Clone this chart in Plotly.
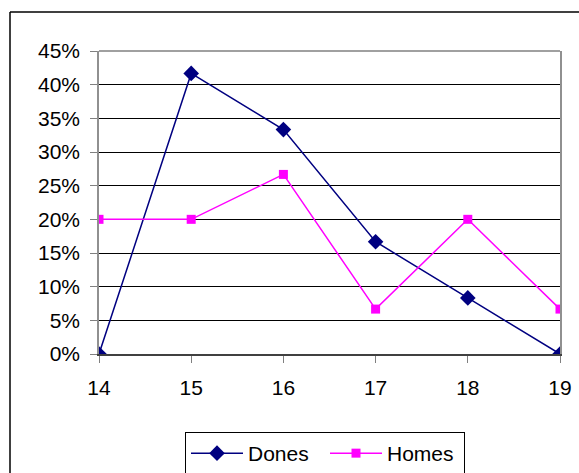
import plotly.graph_objects as go

ages = [14, 15, 16, 17, 18, 19]
dones = [0.0, 0.4167, 0.3333, 0.1667, 0.0833, 0.0]
homes = [0.20, 0.20, 0.2667, 0.0667, 0.20, 0.0667]

W, H = 579, 473
L, T = 99, 51
R = W - 560
B = H - 354
pw, ph = W - L - R, H - T - B

fig = go.Figure()
fig.add_trace(go.Scatter(x=ages, y=dones, name="Dones", mode="lines+markers",
                         line=dict(color="#000080", width=1.5),
                         marker=dict(symbol="diamond", size=12, color="#000080")))
fig.add_trace(go.Scatter(x=ages, y=homes, name="Homes", mode="lines+markers",
                         line=dict(color="#FF00FF", width=1.5),
                         marker=dict(symbol="square", size=9, color="#FF00FF")))

# outer chart border (top and left edges; others are off-canvas)
x_left = (10 - L) / pw
y_top = 1 + (T - 12) / ph
fig.add_shape(type="line", xref="paper", yref="paper",
              x0=x_left, x1=(W - L) / pw, y0=y_top, y1=y_top,
              line=dict(color="black", width=1.5), layer="below")
fig.add_shape(type="line", xref="paper", yref="paper",
              x0=x_left, x1=x_left, y0=-B / ph, y1=y_top,
              line=dict(color="black", width=1.5), layer="below")
# top plot border (gray)
fig.add_shape(type="line", xref="paper", yref="paper", x0=0, x1=1, y0=1, y1=1,
              line=dict(color="#808080", width=1.5), layer="above")

fig.update_layout(
    width=W, height=H,
    margin=dict(l=L, r=R, t=T, b=B, autoexpand=False),
    paper_bgcolor="white", plot_bgcolor="white",
    font=dict(family="Liberation Sans, Arial", size=21, color="black"),
    showlegend=True,
    legend=dict(orientation="h", x=(185 - L) / pw, xanchor="left",
                y=-(432 - 354) / ph, yanchor="top",
                bordercolor="black", borderwidth=1, bgcolor="white",
                font=dict(size=21), itemwidth=52, entrywidth=72, entrywidthmode="pixels",
                tracegroupgap=0),
    xaxis=dict(range=[14, 19], tickvals=ages, ticktext=[str(a) for a in ages],
               tickfont=dict(size=21), ticklabeloverflow="allow",
               showgrid=False, zeroline=False, showline=True, linecolor="#404040",
               linewidth=1.5, mirror=False, ticks="outside", ticklen=7, tickcolor="#808080",
               ticklabelstandoff=7, automargin=False),
    yaxis=dict(range=[0, 0.45], dtick=0.05, tick0=0, tickformat=".0%",
               tickfont=dict(size=21),
               showgrid=True, gridcolor="black", gridwidth=1, zeroline=False,
               showline=True, linecolor="#909090", linewidth=1.5, mirror=True,
               ticks="outside", ticklen=7, tickcolor="#808080", ticklabelstandoff=6,
               automargin=False),
)
fig.write_html("out.html",
               config={"displayModeBar": False},
               post_script="document.body.style.margin='0';"
                           "document.body.style.overflow='hidden';"
                           "document.documentElement.style.overflow='hidden';")
